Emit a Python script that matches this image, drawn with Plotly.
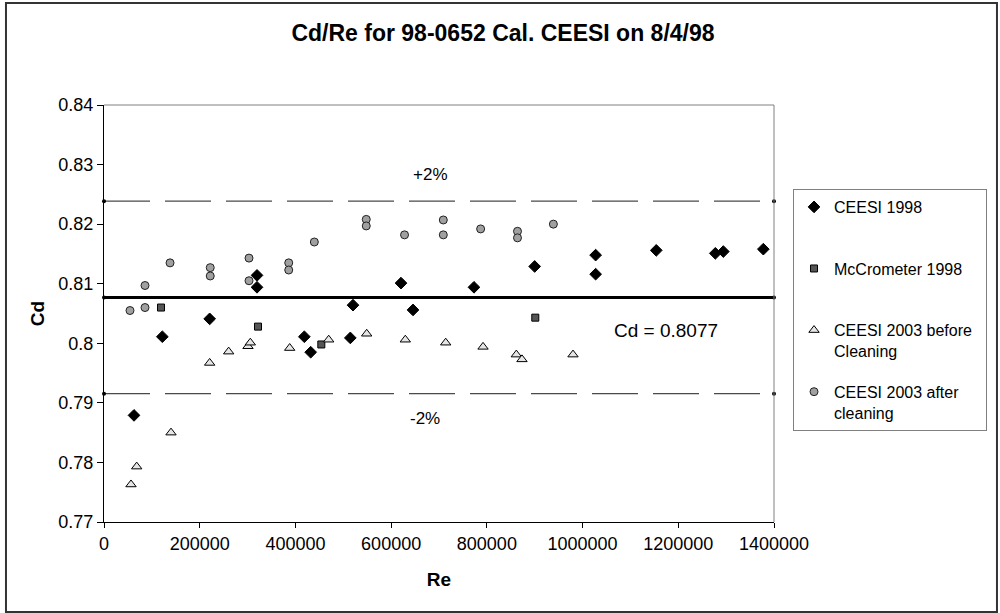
import plotly.graph_objects as go

# ---------------- data ----------------
ceesi98_re = [62700, 121900, 220800, 319700, 319700, 418600, 431900, 514700, 520300,
              620600, 645700, 773100, 899900, 1027300, 1027300, 1154000, 1277400, 1294100, 1377700]
ceesi98_cd = [0.7879, 0.8011, 0.8041, 0.8114, 0.8094, 0.8011, 0.7985, 0.8009, 0.8064,
              0.8101, 0.8056, 0.8094, 0.8129, 0.8148, 0.8116, 0.8156, 0.8151, 0.8154, 0.8158]

mccro_re = [119100, 321800, 454100, 901200]
mccro_cd = [0.8060, 0.8028, 0.7998, 0.8043]

before_re = [56400, 68300, 140000, 220800, 260500, 300900, 305700, 388000, 469500, 548900,
             629600, 714000, 792000, 861600, 873400, 980000]
before_cd = [0.7763, 0.7793, 0.7850, 0.7967, 0.7986, 0.7995, 0.8001, 0.7992, 0.8006, 0.8016,
             0.8006, 0.8001, 0.7994, 0.7981, 0.7973, 0.7981]

after_re = [54300, 85700, 85700, 138000, 222000, 222000, 303000, 303000, 386000, 386000,
            439500, 548000, 548000, 628000, 709000, 709000, 787000, 864000, 864000, 939000]
after_cd = [0.8055, 0.8060, 0.8097, 0.8135, 0.8127, 0.8113, 0.8143, 0.8105, 0.8135, 0.8123,
            0.8170, 0.8208, 0.8197, 0.8182, 0.8207, 0.8182, 0.8192, 0.8188, 0.8177, 0.8200]

cd_mean = 0.8077
band = 0.02
line_re = [0, 1400000]

x_tickvals = [0, 200000, 400000, 600000, 800000, 1000000, 1200000, 1400000]
x_ticktext = ["0", "200000", "400000", "600000", "800000", "1000000", "1200000", "1400000"]
y_tickvals = [0.77, 0.78, 0.79, 0.80, 0.81, 0.82, 0.83, 0.84]
y_ticktext = ["0.77", "0.78", "0.79", "0.8", "0.81", "0.82", "0.83", "0.84"]

title_text = "Cd/Re for 98-0652 Cal. CEESI on 8/4/98"
names = ["CEESI 1998<br>&nbsp;", "McCrometer 1998<br>&nbsp;",
         "CEESI 2003 before&nbsp;&nbsp;<br>Cleaning", "CEESI 2003 after<br>cleaning"]

FONT = "Arial, Liberation Sans, sans-serif"

fig = go.Figure()

# reference lines
upper = [cd_mean * (1 + band)] * 2
lower = [cd_mean * (1 - band)] * 2
for yy in (upper, lower):
    fig.add_trace(go.Scatter(x=line_re, y=yy, mode="lines+markers",
                             line=dict(color="#4a4a4a", width=1.2, dash="46px,15px"),
                             marker=dict(color="black", size=4),
                             showlegend=False, hoverinfo="skip", cliponaxis=False))
fig.add_trace(go.Scatter(x=line_re, y=[cd_mean] * 2, mode="lines+markers",
                         line=dict(color="black", width=3),
                         marker=dict(color="black", size=4),
                         showlegend=False, hoverinfo="skip", cliponaxis=False))

fig.add_trace(go.Scatter(x=ceesi98_re, y=ceesi98_cd, mode="markers", name=names[0], legendgroup="a",
                         marker=dict(symbol="diamond", size=9, color="black",
                                     line=dict(color="black", width=1))))
fig.add_trace(go.Scatter(x=mccro_re, y=mccro_cd, mode="markers", name=names[1], legendgroup="b",
                         marker=dict(symbol="square", size=7, color="#555555",
                                     line=dict(color="black", width=1))))
fig.add_trace(go.Scatter(x=before_re, y=before_cd, mode="markers", name=names[2], legendgroup="c",
                         marker=dict(symbol="triangle-up", size=9, color="#e6e6e6",
                                     line=dict(color="black", width=1))))
fig.add_trace(go.Scatter(x=after_re, y=after_cd, mode="markers", name=names[3], legendgroup="d",
                         marker=dict(symbol="circle", size=8, color="#a0a0a0",
                                     line=dict(color="#222222", width=1))))

fig.update_layout(
    width=1000, height=613,
    paper_bgcolor="white", plot_bgcolor="white",
    margin=dict(l=104, r=226, t=105, b=91),
    font=dict(family=FONT, size=18, color="black"),
    title=dict(text="<b>" + title_text + "</b>", x=0.503, xref="container",
               y=1 - 33 / 613, yref="container", xanchor="center", yanchor="middle",
               font=dict(size=23, family=FONT, color="black")),
    xaxis=dict(range=[0, 1400000], tickvals=x_tickvals, ticktext=x_ticktext,
               showgrid=False, zeroline=False, showline=True, linecolor="black", linewidth=1,
               ticks="outside", ticklen=5, tickcolor="black", tickfont=dict(size=18),
               title=dict(text="<b>Re</b>", standoff=20, font=dict(size=19))),
    yaxis=dict(range=[0.77, 0.84], tickvals=y_tickvals, ticktext=y_ticktext,
               showgrid=False, zeroline=False, showline=True, linecolor="black", linewidth=1,
               ticks="outside", ticklen=6, tickcolor="black", tickfont=dict(size=18),
               title=dict(text="<b>Cd</b>", standoff=8, font=dict(size=19))),
    legend=dict(x=1.0284, y=0.7986, xanchor="left", yanchor="top",
                bordercolor="#808080", borderwidth=1, bgcolor="white",
                tracegroupgap=17, valign="top", font=dict(size=16)),
    annotations=[
        dict(x=683000, y=0.8284, xref="x", yref="y", text="+2%", showarrow=False,
             font=dict(size=17)),
        dict(x=670000, y=0.7874, xref="x", yref="y", text="-2%", showarrow=False,
             font=dict(size=17)),
        dict(x=1175000, y=0.8022, xref="x", yref="y", text="Cd = 0.8077", showarrow=False,
             font=dict(size=19)),
    ],
    shapes=[
        # plot area top/right border (gray)
        dict(type="line", xref="paper", yref="paper", x0=0, x1=1, y0=1, y1=1,
             line=dict(color="#808080", width=1)),
        dict(type="line", xref="paper", yref="paper", x0=1, x1=1, y0=0, y1=1,
             line=dict(color="#808080", width=1)),
        # outer chart frame
        dict(type="rect", xref="paper", yref="paper",
             x0=-0.1463, x1=1.3328, y0=-0.2158, y1=1.2446,
             line=dict(color="#333333", width=2)),
    ],
)

fig.write_html("out.html", config={"displayModeBar": False},
               post_script="document.body.style.margin='0';document.body.style.padding='0';")
